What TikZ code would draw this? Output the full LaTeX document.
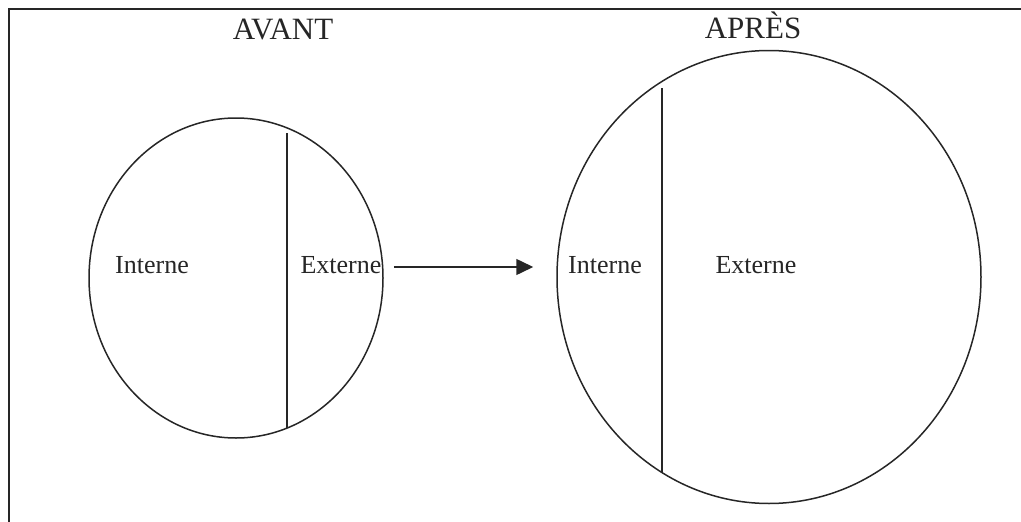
\documentclass[tikz,border=0pt]{standalone}
\usepackage{fontspec}
\setmainfont{Liberation Serif}
\usetikzlibrary{shapes.geometric}
\usetikzlibrary{arrows.meta}

\tikzset{
  zone/.style={ellipse, draw, line width=1.5pt, inner sep=0pt},
  titre/.style={anchor=base, inner sep=0pt, font=\fontsize{31}{31}\selectfont},
  etiq/.style={anchor=base, inner sep=0pt, font=\fontsize{26}{26}\selectfont},
}

\begin{document}
\begin{tikzpicture}[x=1pt, y=-1pt, line width=1.5pt, color=black!85]
    \useasboundingbox (0,0) rectangle (1021,522);

    % frame (top and left side only)
    \draw (9,522) -- (9,9) -- (1021,9);

    % the two zones
    \node[zone, minimum width=294pt, minimum height=320pt] (avant) at (236,278) {};
    \node[zone, minimum width=424pt, minimum height=453pt] (apres) at (769,277) {};

    % dividing lines
    \draw (287,133) -- (287,428);
    \draw (662,88) -- (662,472);

    % titles
    \node[titre] (tavant) at (283,39) {AVANT};
    \node[titre] (tapres) at (753,38) {APRÈS};

    % labels
    \node[etiq] (int1) at (152,273) {Interne};
    \node[etiq] (ext1) at (341,273) {Externe};
    \node[etiq] (int2) at (605,273) {Interne};
    \node[etiq] (ext2) at (756,273) {Externe};

    % the arrow
    \coordinate (depart) at ([yshift=11pt]avant.east);
    \draw[-{Triangle[length=17pt, width=16pt]}, line width=1.5pt,
          shorten <=10pt, shorten >=23pt] (depart) -- (apres.west |- depart);
\end{tikzpicture}
\end{document}
